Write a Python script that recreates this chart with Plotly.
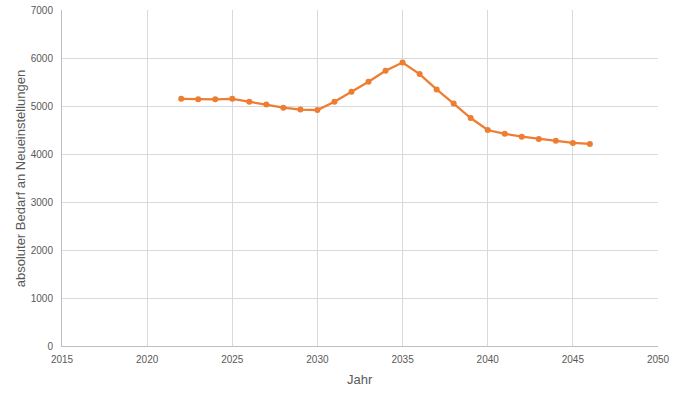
import plotly.graph_objects as go

years = list(range(2022, 2047))
bedarf = [5150, 5140, 5140, 5150, 5090, 5030, 4965, 4925, 4915,
          5090, 5295, 5505, 5735, 5905, 5665, 5345, 5050, 4750,
          4500, 4420, 4360, 4315, 4275, 4230, 4210]

x_ticks = [2015, 2020, 2025, 2030, 2035, 2040, 2045, 2050]
y_ticks = [0, 1000, 2000, 3000, 4000, 5000, 6000, 7000]

fig = go.Figure()
fig.add_trace(go.Scatter(
    x=years, y=bedarf, mode="lines+markers",
    line=dict(color="#ED7D31", width=2.25),
    marker=dict(color="#ED7D31", size=6),
    showlegend=False,
))

font_fam = "Liberation Sans Narrow, Liberation Sans, Arial"
fig.update_layout(
    width=675, height=399,
    margin=dict(l=62, r=17, t=10, b=53, autoexpand=False),
    paper_bgcolor="white", plot_bgcolor="white",
    font=dict(family=font_fam, color="#595959", size=10),
    xaxis=dict(
        range=[2015, 2050], tickvals=x_ticks, ticktext=[str(t) for t in x_ticks],
        showgrid=True, gridcolor="#d9d9d9", gridwidth=1,
        showline=True, linecolor="#bfbfbf", linewidth=1,
        zeroline=False, ticks="", tickfont=dict(size=10, color="#595959"),
        automargin=False, ticklabelstandoff=4,
    ),
    yaxis=dict(
        range=[0, 7000], tickvals=y_ticks, ticktext=[str(t) for t in y_ticks],
        showgrid=True, gridcolor="#d9d9d9", gridwidth=1,
        showline=True, linecolor="#bfbfbf", linewidth=1,
        zeroline=False, ticks="", tickfont=dict(size=10, color="#595959"),
        automargin=False, ticklabelstandoff=6,
    ),
    annotations=[
        dict(text="Jahr", xref="paper", yref="paper", x=0.5, y=-0.1,
             xanchor="center", yanchor="middle", showarrow=False,
             font=dict(size=13, color="#595959")),
        dict(text="absoluter Bedarf an Neueinstellungen", xref="paper", yref="paper",
             x=-0.07, y=0.5, xanchor="center", yanchor="middle", showarrow=False,
             textangle=-90, font=dict(size=13, color="#595959")),
    ],
)

fig.write_html("out.html", config={"displayModeBar": False},
               post_script="document.body.style.margin='0';")
